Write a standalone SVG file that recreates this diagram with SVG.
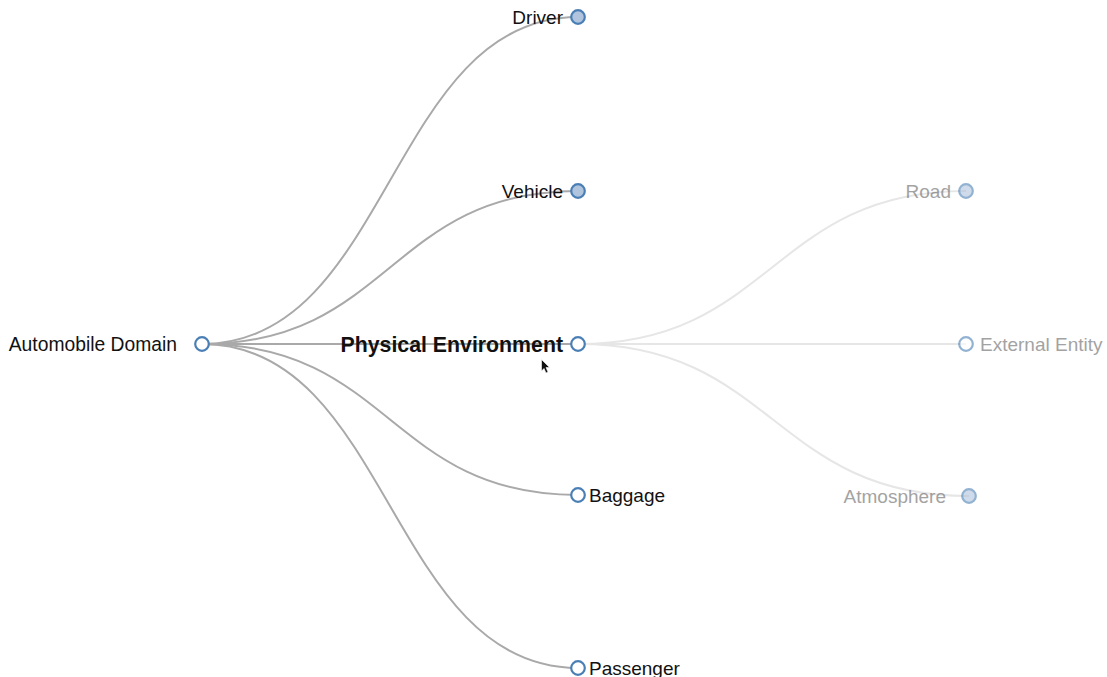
<svg xmlns="http://www.w3.org/2000/svg" width="1107" height="677" viewBox="0 0 1107 677">
<style>
.link{fill:none;stroke:#a9a9a9;stroke-width:2}
.link.faded{stroke:#e6e6e6}
.node circle{stroke:#4a7fb5;stroke-width:2.2;fill:#fff}
.node.full circle{fill:#b0c4de}
.node text{font-family:"Liberation Sans",Arial,sans-serif;font-size:19px;fill:#111}
.node.faded{opacity:0.6}
.node.faded text{fill:#666}
</style>
<rect width="1107" height="677" fill="#fff"/>
<g id="links">
<path class="link faded" d="M578,344C772,344 772,191 966,191"/>
<path class="link faded" d="M578,344C772,344 772,344 966,344"/>
<path class="link faded" d="M578,344C773.5,344 773.5,496 969,496"/>
<path class="link" d="M202,344C390,344 390,17 578,17"/>
<path class="link" d="M202,344C390,344 390,191 578,191"/>
<path class="link" d="M202,344C390,344 390,344 578,344"/>
<path class="link" d="M202,344C390,344 390,495 578,495"/>
<path class="link" d="M202,344C390,344 390,668 578,668"/>
</g>
<g id="node-root" class="node"><circle cx="202" cy="344" r="6.8"/><text x="177" y="351" text-anchor="end" style="font-size:19.3px">Automobile Domain</text></g>
<g id="node-driver" class="node full"><circle cx="578" cy="17" r="6.8"/><text x="563" y="24" text-anchor="end">Driver</text></g>
<g id="node-vehicle" class="node full"><circle cx="578" cy="191" r="6.8"/><text x="563" y="198" text-anchor="end">Vehicle</text></g>
<g id="node-physical" class="node"><circle cx="578" cy="344" r="6.8"/><text x="563" y="351.5" text-anchor="end" font-weight="bold" style="font-size:21.3px">Physical Environment</text></g>
<g id="node-baggage" class="node"><circle cx="578" cy="495" r="6.8"/><text x="589" y="502">Baggage</text></g>
<g id="node-passenger" class="node"><circle cx="578" cy="668" r="6.8"/><text x="589" y="675">Passenger</text></g>
<g id="node-road" class="node full faded"><circle cx="966" cy="191" r="6.8"/><text x="951" y="198" text-anchor="end">Road</text></g>
<g id="node-external" class="node faded"><circle cx="966" cy="344" r="6.8"/><text x="980" y="351">External Entity</text></g>
<g id="node-atmosphere" class="node full faded"><circle cx="969" cy="496" r="6.8"/><text x="946" y="503" text-anchor="end">Atmosphere</text></g>
<path d="M541.5,359.5 L541.5,371 L544,368.5 L546,373 L548,372 L546,367.5 L549.5,367.5 Z" fill="#111" stroke="#fff" stroke-width="0.6"/>
</svg>
